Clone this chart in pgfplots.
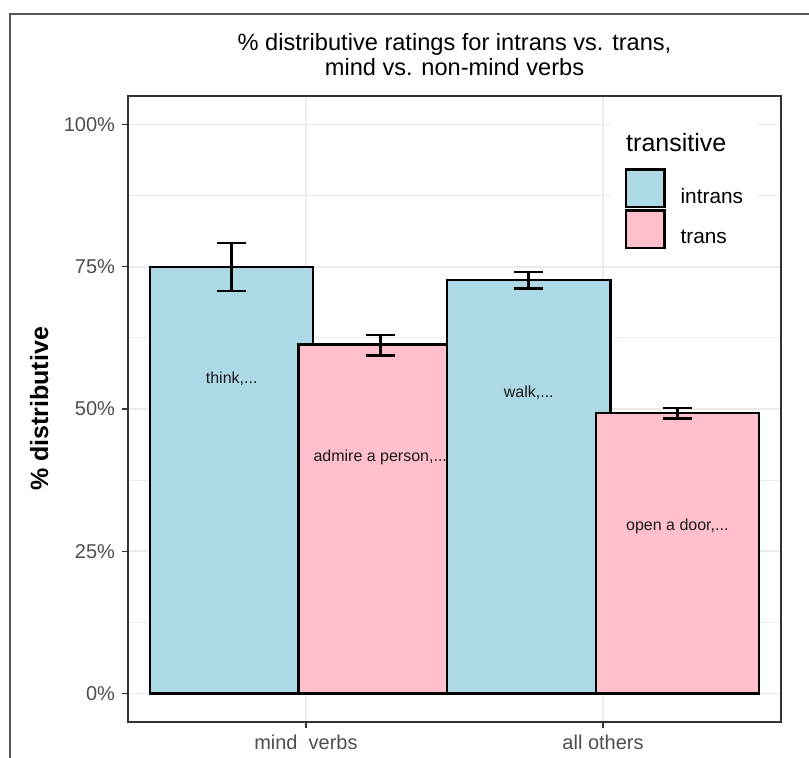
\documentclass[border=0pt]{standalone}
\usepackage{pgfplots}
\pgfplotsset{compat=1.18}
\usepackage{fontspec}
\setmainfont{Liberation Sans}

\definecolor{intrans}{HTML}{ADD8E6}
\definecolor{trans}{HTML}{FFC0CB}
\definecolor{gridgray}{HTML}{EBEBEB}
\definecolor{axgray}{HTML}{333333}
\definecolor{labgray}{HTML}{4D4D4D}
\definecolor{framegray}{HTML}{555555}

\pgfplotsset{
  errstyle/.style={
    error bars/.cd, y dir=both, y explicit,
    error bar style={line width=1.3pt, black},
    error mark options={rotate=90, line width=1.3pt, mark size=7.25pt, black},
  },
  keybox/.style={legend image code/.code={%
    \draw[##1] (0pt,-5.55pt) rectangle (19.2pt,13.05pt);
    \path (26.7pt,0pt);}},
}

\begin{document}
\begin{tikzpicture}
\useasboundingbox (-64pt,-18pt) rectangle (340.5pt,361pt);
% outer frame of the screenshot
\draw[framegray, line width=1pt] (-58.75pt,-40pt) -- (-58.75pt,354pt) -- (360pt,354pt);

\begin{axis}[
  at={(0pt,0pt)}, anchor=south west,
  scale only axis, width=326.5pt, height=313pt,
  xmin=0.401, xmax=2.599, ymin=-5, ymax=105,
  xtick={1,2}, xticklabels={mind\ \ verbs, all others},
  ytick={0,25,50,75,100}, yticklabels={0\%,25\%,50\%,75\%,100\%},
  minor ytick={12.5,37.5,62.5,87.5},
  grid=both,
  major grid style={gridgray, line width=0.9pt},
  minor grid style={gridgray, line width=0.45pt},
  tick pos=left, tick align=outside,
  major tick length=3pt, minor tick length=0pt,
  tick style={axgray, line width=0.7pt},
  axis line style={axgray, line width=0.7pt},
  ticklabel style={font=\fontsize{10}{12}\selectfont, text=labgray},
  ylabel={\textbf{\% distributive}},
  ylabel style={font=\fontsize{12.5}{15}\selectfont, at={(axis description cs:-0.1225,0.5)}, anchor=base},
  legend style={at={(0.7397,0.9623)}, anchor=north west, draw=none, fill=white,
    inner xsep=6.9pt, inner ysep=7pt, outer sep=0pt, row sep=0.7pt,
    nodes={inner sep=0pt, text depth=0pt}, cells={anchor=west},
    font=\fontsize{10.4}{12}\selectfont},
]
% bars in drawing order: intrans mind, trans mind, intrans others, trans others
\addplot[ybar, bar width=0.549, bar shift=0pt, fill=intrans, draw=black, line width=1.2pt, forget plot, errstyle]
  coordinates {(0.75,75.0) += (0,4.2) -= (0,4.25)};
\addplot[ybar, bar width=0.549, bar shift=0pt, fill=trans, draw=black, line width=1.2pt, forget plot, errstyle]
  coordinates {(1.25,61.3) += (0,1.7) -= (0,1.9)};
\addplot[ybar, bar width=0.549, bar shift=0pt, fill=intrans, draw=black, line width=1.2pt, forget plot, errstyle]
  coordinates {(1.75,72.7) += (0,1.4) -= (0,1.5)};
\addplot[ybar, bar width=0.549, bar shift=0pt, fill=trans, draw=black, line width=1.2pt, forget plot, errstyle]
  coordinates {(2.25,49.3) += (0,0.9) -= (0,0.95)};

\node[anchor=base, font=\fontsize{8}{9.6}\selectfont, text={rgb,255:red,26;green,26;blue,26}] at (axis cs:0.75,54.4) {think,...};
\node[anchor=base, font=\fontsize{8}{9.6}\selectfont, text={rgb,255:red,26;green,26;blue,26}] at (axis cs:1.25,40.7) {admire a person,...};
\node[anchor=base, font=\fontsize{8}{9.6}\selectfont, text={rgb,255:red,26;green,26;blue,26}] at (axis cs:1.75,52.0) {walk,...};
\node[anchor=base, font=\fontsize{8}{9.6}\selectfont, text={rgb,255:red,26;green,26;blue,26}] at (axis cs:2.25,28.65) {open a door,...};

\addlegendimage{legend image code/.code={\path (0pt,-12pt);}}
\addlegendentry{\fontsize{12.5}{15}\selectfont\hspace{-27.2pt}transitive}
\addlegendimage{keybox, fill=intrans, draw=black, line width=1.2pt}
\addlegendentry{intrans}
\addlegendimage{keybox, fill=trans, draw=black, line width=1.2pt}
\addlegendentry{trans}
\end{axis}

\node[anchor=base, font=\fontsize{11.8}{14}\selectfont] at (163.25pt,335.6pt) {\% distributive ratings for intrans vs. trans,};
\node[anchor=base, font=\fontsize{11.8}{14}\selectfont] at (163.25pt,323.1pt) {mind vs. non-mind verbs};
\end{tikzpicture}
\end{document}
